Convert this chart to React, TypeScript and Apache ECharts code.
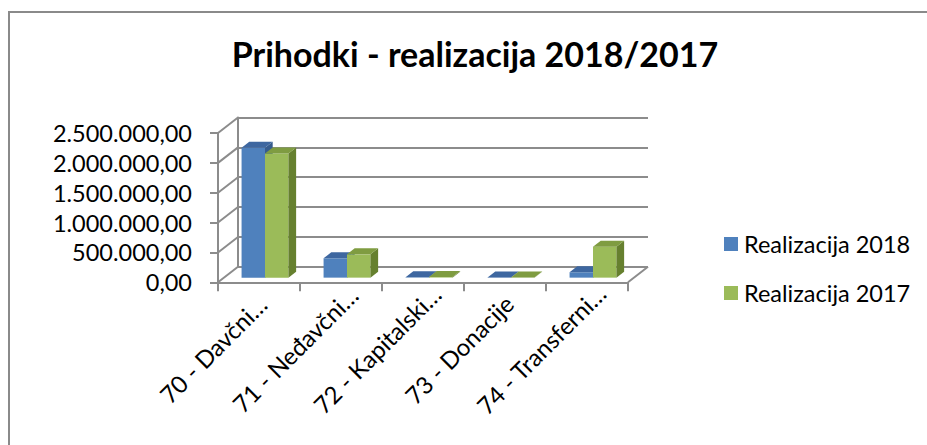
import React, { useEffect, useRef } from 'react';
import * as echarts from 'echarts';

const categories = ['70 - Davčni…', '71 - Neđavčni…', '72 - Kapitalski…', '73 - Donacije', '74 - Transferni…'];
const seriesNames = ['Realizacija 2018', 'Realizacija 2017'];
const values2018 = [2174000, 324000, 6000, 4000, 90000];
const values2017 = [2080000, 390000, 9000, 3000, 518000];
const yTicks = [0, 500000, 1000000, 1500000, 2000000, 2500000];
const titleText = 'Prihodki - realizacija 2018/2017';

const FONT = 'Lato, "Noto Sans", sans-serif';
const GRID_COLOR = '#8c8c8c';
const DEPTH_X = 20;
const DEPTH_Y = -15.5;
const BAR_DX = 7.7;
const BAR_DY = -6;
const BAR_FRONT = 0.3;

const palettes = [
  { front: '#4F81BD', top: '#3E67A0', side: '#365C8E' },
  { front: '#9BBB59', top: '#7F9C41', side: '#66802F' },
];

function fmt(v: number): string {
  return Math.round(v).toString().replace(/\B(?=(\d{3})+(?!\d))/g, '.') + ',00';
}

function barRenderer(idx: number) {
  const c = palettes[idx];
  return (params: any, api: any) => {
    const cat = api.value(0);
    const val = api.value(1);
    const base = api.coord([cat, 0]);
    const top = api.coord([cat, val]);
    const band = api.size([1, 0])[0];
    const bw = band / 3.5;
    const sx = BAR_FRONT * DEPTH_X;
    const sy = BAR_FRONT * DEPTH_Y;
    const x0 = base[0] + sx + (idx === 0 ? -bw : 0);
    const x1 = x0 + bw;
    const yb = base[1] + sy;
    const yt = top[1] + sy;
    return {
      type: 'group',
      children: [
        { type: 'polygon', shape: { points: [[x0, yb], [x1, yb], [x1, yt], [x0, yt]] }, style: { fill: c.front } },
        { type: 'polygon', shape: { points: [[x1, yb], [x1 + BAR_DX, yb + BAR_DY], [x1 + BAR_DX, yt + BAR_DY], [x1, yt]] }, style: { fill: c.side } },
        { type: 'polygon', shape: { points: [[x0, yt], [x1, yt], [x1 + BAR_DX, yt + BAR_DY], [x0 + BAR_DX, yt + BAR_DY]] }, style: { fill: c.top } },
      ],
    };
  };
}

function wallRenderer(params: any, api: any) {
  const cs = params.coordSys;
  const v = api.value(1);
  const p = api.coord([0, v]);
  const children: any[] = [
    { type: 'line', shape: { x1: cs.x, y1: p[1], x2: cs.x + DEPTH_X, y2: p[1] + DEPTH_Y }, style: { stroke: GRID_COLOR, lineWidth: 2 } },
  ];
  if (v === 0) {
    children.push({ type: 'line', shape: { x1: cs.x + cs.width, y1: p[1], x2: cs.x + cs.width + DEPTH_X, y2: p[1] + DEPTH_Y }, style: { stroke: GRID_COLOR, lineWidth: 2 } });
  }
  return { type: 'group', children };
}

export default function App() {
  const ref = useRef<HTMLDivElement>(null);
  useEffect(() => {
    if (!ref.current) return;
    const chart = echarts.init(ref.current, null, { renderer: 'svg' });
    const frontLeft = 218;
    const frontTop = 133;
    const w = 410;
    const h = 149.3;
    const option: any = {
      animation: false,
      backgroundColor: '#ffffff',
      textStyle: { fontFamily: FONT },
      title: {
        text: titleText,
        left: 470,
        top: 31,
        textAlign: 'center',
        textStyle: { fontFamily: FONT, fontWeight: 'bold', fontSize: 34, color: '#000' },
      },
      legend: {
        orient: 'vertical',
        left: 719,
        top: 227,
        itemWidth: 14,
        itemHeight: 14,
        itemGap: 25,
        icon: 'rect',
        data: seriesNames,
        textStyle: { fontFamily: FONT, fontSize: 23.5, color: '#000', lineHeight: 24, padding: [0, 0, 0, 1] },
      },
      graphic: [
        { type: 'rect', shape: { x: 9, y: 12, width: 1000, height: 1000 }, style: { fill: 'none', stroke: '#8a8a8a', lineWidth: 2 }, silent: true },
      ],
      grid: [
        { left: frontLeft, top: frontTop, width: w, height: h },
        { left: frontLeft + DEPTH_X, top: frontTop + DEPTH_Y, width: w, height: h },
        { left: frontLeft - 46, top: frontTop, width: w, height: h },
      ],
      xAxis: [
        {
          gridIndex: 0, type: 'category', data: categories, boundaryGap: true,
          axisLine: { show: true, lineStyle: { color: GRID_COLOR, width: 2 } },
          axisTick: { show: true, alignWithLabel: false, interval: 0, length: 9, lineStyle: { color: GRID_COLOR, width: 2 } },
          axisLabel: { show: false },
          splitLine: { show: false },
        },
        { gridIndex: 1, type: 'category', data: categories, show: false },
        {
          gridIndex: 2, type: 'category', data: categories, boundaryGap: true,
          axisLine: { show: false }, axisTick: { show: false }, splitLine: { show: false },
          axisLabel: {
            show: true, interval: 0, rotate: 45, align: 'center', verticalAlign: 'middle', margin: 67,
            fontFamily: FONT, fontSize: 24, color: '#000',
          },
        },
      ],
      yAxis: [
        {
          gridIndex: 0, type: 'value', min: 0, max: 2500000, interval: 500000,
          axisLine: { show: true, lineStyle: { color: GRID_COLOR, width: 2 } },
          axisTick: { show: true, length: 8, lineStyle: { color: GRID_COLOR, width: 2 } },
          axisLabel: { show: true, margin: 26, fontFamily: FONT, fontSize: 23.5, color: '#000', formatter: (v: number) => fmt(v) },
          splitLine: { show: false },
        },
        {
          gridIndex: 1, type: 'value', min: 0, max: 2500000, interval: 500000,
          axisLine: { show: true, lineStyle: { color: GRID_COLOR, width: 2 } },
          axisTick: { show: false },
          axisLabel: { show: false },
          splitLine: { show: true, lineStyle: { color: GRID_COLOR, width: 2 } },
        },
        { gridIndex: 2, type: 'value', min: 0, max: 2500000, show: false },
      ],
      series: [
        {
          type: 'custom', name: 'walls', xAxisIndex: 0, yAxisIndex: 0, silent: true,
          renderItem: wallRenderer,
          data: yTicks.map((v) => [0, v]),
          encode: { x: 0, y: 1 },
          z: 1,
        },
        {
          type: 'custom', name: seriesNames[0], xAxisIndex: 0, yAxisIndex: 0,
          renderItem: barRenderer(0),
          itemStyle: { color: palettes[0].front },
          data: values2018.map((v, i) => [i, v]),
          encode: { x: 0, y: 1 },
          z: 3,
        },
        {
          type: 'custom', name: seriesNames[1], xAxisIndex: 0, yAxisIndex: 0,
          renderItem: barRenderer(1),
          itemStyle: { color: palettes[1].front },
          data: values2017.map((v, i) => [i, v]),
          encode: { x: 0, y: 1 },
          z: 4,
        },
      ],
    };
    chart.setOption(option);
    return () => chart.dispose();
  }, []);
  return <div ref={ref} style={{ position: 'fixed', left: 0, top: 0, width: 927, height: 445 }} />;
}
